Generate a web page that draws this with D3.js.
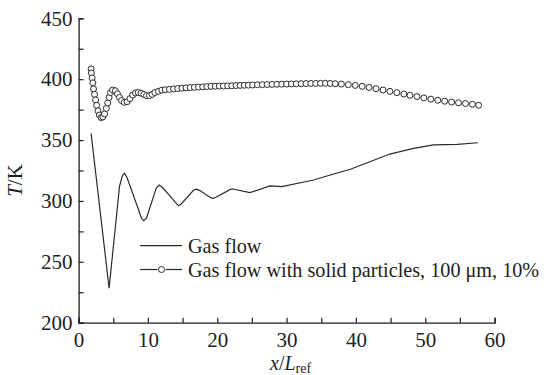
<!DOCTYPE html>
<html><head><meta charset="utf-8">
<script src="https://cdn.jsdelivr.net/npm/d3@7"></script>
<style>body{margin:0;background:#fff;}</style>
</head><body><svg id="c" width="548" height="375"></svg>
<script>
const xTicks = [0, 10, 20, 30, 40, 50, 60];
const yTicks = [200, 250, 300, 350, 400, 450];
const seriesNames = ["Gas flow", "Gas flow with solid particles, 100 \u03bcm, 10%"];

const gasX = [1.8, 4.4, 5.9, 6.3, 6.6, 7.0, 9.1, 9.4, 9.8, 11.2, 11.65, 12.1, 13.2, 14.4, 14.8, 16.6, 17.0, 17.5, 19.1, 19.4, 19.8, 21.9, 22.3, 24.7, 27.6, 29.3, 33.9, 36.3, 39.2, 42.0, 44.9, 48.3, 51.2, 54.6, 57.6];
const gasT = [355.5, 228.3, 312, 320.5, 322.7, 319, 285.5, 283.8, 286, 310.5, 313, 311, 304, 296, 297.5, 309, 309.6, 308.5, 302.5, 302.2, 303, 309.5, 309.8, 306.8, 312.3, 311.7, 317.2, 321.3, 326, 332.2, 338.5, 343.2, 346, 346.5, 347.8];

const partX = [1.8, 1.85, 1.95, 2.05, 2.15, 2.3, 2.45, 2.6, 2.8, 3.0, 3.25, 3.5, 3.75, 4.0, 4.2, 4.4, 4.6, 4.9, 5.3, 5.6, 5.9, 6.2, 6.6, 7.0, 7.4, 7.8, 8.2, 8.6, 9.0, 9.4, 9.8, 10.2, 10.6, 11.0, 11.5, 12.0,
  12.5, 13.1, 13.7, 14.3, 14.9, 15.5, 16.1, 16.7, 17.3, 17.9, 18.5, 19.1, 19.7, 20.3, 20.9, 21.5, 22.1, 22.7, 23.3, 23.9, 24.5, 25.1,
  25.8, 26.5, 27.2, 27.9, 28.6, 29.3, 30.0, 30.7, 31.4, 32.1, 32.8, 33.5, 34.2, 34.9, 35.6, 36.3, 37.0,
  37.9, 38.9, 39.9, 40.9, 41.9, 42.9, 43.9, 44.9, 45.9, 46.9, 47.8, 48.8, 49.8, 50.8, 51.8, 52.8, 53.8, 54.8, 55.8, 56.8, 57.7];
const partT = [408.5, 405, 401, 397, 392, 387.5, 383, 378.5, 374, 370.5, 368.5, 369, 371.5, 376, 380.5, 385, 389, 391, 390.5, 388, 385, 382.5, 381, 381.5, 384, 387, 388.7, 389, 388.5, 387.5, 386.5, 386.5, 387.5, 389, 390, 391,
  391.3, 391.6, 392, 392.3, 392.6, 392.9, 393.1, 393.3, 393.5, 393.7, 393.9, 394.1, 394.2, 394.3, 394.4, 394.5, 394.6, 394.8, 394.9, 395, 395.1, 395.2,
  395.4, 395.5, 395.6, 395.7, 395.8, 395.9, 396, 396.1, 396.2, 396.3, 396.4, 396.5, 396.5, 396.6, 396.6, 396.5, 396.3,
  396, 395.5, 394.9, 394.1, 393.2, 392.2, 391.1, 390, 388.9, 387.8, 386.8, 385.7, 384.6, 383.6, 382.7, 381.9, 381.2, 380.6, 380, 379.4, 378.5];

const FONT = "'Liberation Serif', 'Times New Roman', serif";
const svg = d3.select("#c");
const m = {l: 78.6, r: 494.6, t: 18.3, b: 322.7};
const x = d3.scaleLinear().domain([0, 60]).range([m.l, m.r]);
const y = d3.scaleLinear().domain([200, 450]).range([m.b, m.t]);
const ink = "#1e1e1e";

// axes
const xAxis = d3.axisBottom(x).tickValues(d3.range(0, 61, 5)).tickSize(-5).tickFormat(d => xTicks.includes(d) ? d : "");
const gx = svg.append("g").attr("transform", `translate(0,${m.b})`).call(xAxis);
gx.selectAll("text").attr("dy", "0.71em").attr("y", 9);
const yAxis = d3.axisLeft(y).tickValues(d3.range(200, 451, 25)).tickSize(-5).tickFormat(d => yTicks.includes(d) ? d : "");
const gy = svg.append("g").attr("transform", `translate(${m.l},0)`).call(yAxis);
gy.selectAll("text").attr("x", -6);
[gx, gy].forEach(g => {
  g.attr("font-family", FONT).attr("font-size", 21);
  g.select(".domain").attr("stroke", ink).attr("stroke-width", 1.3);
  g.selectAll(".tick line").attr("stroke", ink).attr("stroke-width", 1.2);
  g.selectAll("text").style("font-family", FONT).style("font-size", "21px").style("fill", ink);
});

// gas flow line
const line = d3.line().x(d => x(d[0])).y(d => y(d[1]));
svg.append("path").datum(gasX.map((v, i) => [v, gasT[i]]))
  .attr("d", line).attr("fill", "none").attr("stroke", "#2a2a2a").attr("stroke-width", 1.2);

// particle markers
svg.append("g").selectAll("circle").data(partX.map((v, i) => [v, partT[i]])).join("circle")
  .attr("cx", d => x(d[0])).attr("cy", d => y(d[1])).attr("r", 3)
  .attr("fill", "#fff").attr("stroke", "#2a2a2a").attr("stroke-width", 1);

// legend
const lg = svg.append("g");
lg.append("line").attr("x1", 140).attr("x2", 182).attr("y1", 245.7).attr("y2", 245.7).attr("stroke", "#2a2a2a").attr("stroke-width", 1.2);
lg.append("line").attr("x1", 140).attr("x2", 157.5).attr("y1", 269.5).attr("y2", 269.5).attr("stroke", "#2a2a2a").attr("stroke-width", 1.2);
lg.append("line").attr("x1", 165.5).attr("x2", 182).attr("y1", 269.5).attr("y2", 269.5).attr("stroke", "#2a2a2a").attr("stroke-width", 1.2);
lg.append("circle").attr("cx", 161.5).attr("cy", 269.5).attr("r", 3).attr("fill", "#fff").attr("stroke", "#2a2a2a");
lg.append("text").attr("x", 188).attr("y", 252.5).style("font-family", FONT).style("font-size", "20.2px").style("fill", ink).text(seriesNames[0]);
lg.append("text").attr("x", 188).attr("y", 276.5).style("font-family", FONT).style("font-size", "20.2px").style("fill", ink).text(seriesNames[1]);

// axis titles
const xt = svg.append("text").attr("x", x(30) + 4).attr("y", 369.5).attr("text-anchor", "middle")
  .style("font-family", FONT).style("font-size", "20px").style("fill", ink);
xt.append("tspan").style("font-style", "italic").text("x");
xt.append("tspan").text("/");
xt.append("tspan").style("font-style", "italic").text("L");
xt.append("tspan").attr("dy", 3).style("font-size", "14px").text("ref");

const yt = svg.append("text").attr("transform", `translate(22,${(m.t + m.b) / 2 + 10}) rotate(-90)`).attr("text-anchor", "middle")
  .style("font-family", FONT).style("font-size", "21px").style("fill", ink);
yt.append("tspan").style("font-style", "italic").text("T");
yt.append("tspan").text("/K");
</script></body></html>
